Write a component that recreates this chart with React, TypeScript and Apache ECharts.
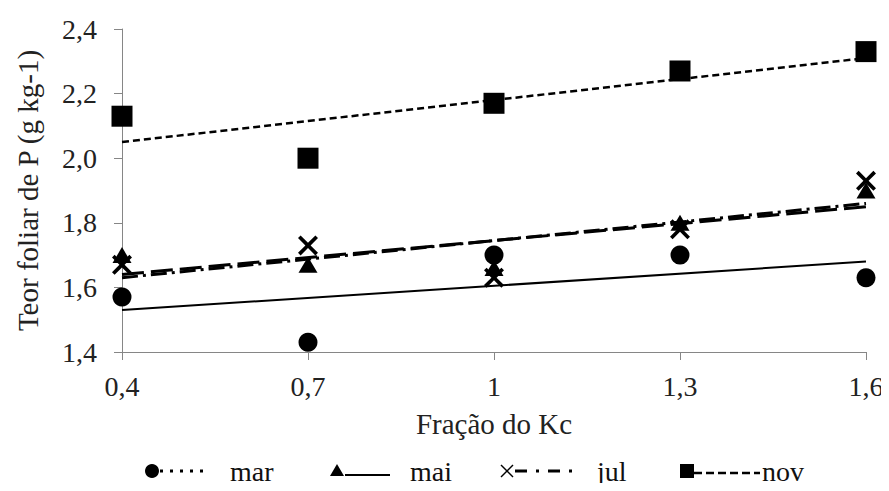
import React, { useEffect, useRef } from "react";
import * as echarts from "echarts";

const categories = ["0,4", "0,7", "1", "1,3", "1,6"];
const marValues = [1.57, 1.43, 1.7, 1.7, 1.63];
const maiValues = [1.7, 1.67, 1.66, 1.8, 1.9];
const julValues = [1.67, 1.73, 1.63, 1.78, 1.93];
const novValues = [2.13, 2.0, 2.17, 2.27, 2.33];
// trend line end values (at 0,4 and 1,6)
const marTrend = [1.53, 1.68];
const maiTrend = [1.64, 1.85];
const julTrend = [1.63, 1.86];
const novTrend = [2.05, 2.31];
const yTicks = { min: 1.4, max: 2.4, interval: 0.2 };
const legendNames = ["mar", "mai", "jul", "nov"];

const FONT = "Liberation Serif";
const X_PATH =
  "path://M0,1.3L1.3,0L5,3.7L8.7,0L10,1.3L6.3,5L10,8.7L8.7,10L5,6.3L1.3,10L0,8.7L3.7,5Z";

function trendData(t: number[]) {
  return categories.map((_, i) => (i === 0 ? t[0] : i === categories.length - 1 ? t[1] : null));
}

export default function App() {
  const ref = useRef<HTMLDivElement>(null);
  useEffect(() => {
    if (!ref.current) return;
    const chart = echarts.init(ref.current, null, { renderer: "svg" });
    const ly = 471;
    const black = "#000";
    const legendText = (x: number, t: string) => ({
      type: "text",
      x,
      y: ly,
      style: {
        text: t,
        fontFamily: FONT,
        fontSize: 28,
        fill: "#111",
        verticalAlign: "middle",
        align: "left",
      },
    });
    const option: any = {
      animation: false,
      backgroundColor: "#fff",
      textStyle: { fontFamily: FONT },
      grid: { left: 122, right: 23, top: 29, bottom: 139 },
      xAxis: {
        type: "category",
        data: categories,
        boundaryGap: false,
        name: "Fração do Kc",
        nameLocation: "middle",
        nameGap: 57,
        nameTextStyle: { fontFamily: FONT, fontSize: 29, color: "#222" },
        axisLine: { lineStyle: { color: "#868686", width: 1 } },
        axisTick: { show: true, length: 8, inside: false, lineStyle: { color: "#868686" } },
        axisLabel: { fontFamily: FONT, fontSize: 28, color: "#222", margin: 20 },
        splitLine: { show: false },
      },
      yAxis: {
        type: "value",
        min: yTicks.min,
        max: yTicks.max,
        interval: yTicks.interval,
        name: "Teor foliar de P (g kg-1)",
        nameLocation: "middle",
        nameGap: 80,
        nameTextStyle: { fontFamily: FONT, fontSize: 29, color: "#222" },
        axisLine: { show: true, lineStyle: { color: "#868686", width: 1 } },
        axisTick: { show: true, length: 8, lineStyle: { color: "#868686" } },
        axisLabel: {
          fontFamily: FONT,
          fontSize: 28,
          color: "#222",
          margin: 25,
          formatter: (v: number) => v.toFixed(1).replace(".", ","),
        },
        splitLine: { show: false },
      },
      series: [
        {
          name: "mar trend",
          type: "line",
          data: trendData(marTrend),
          connectNulls: true,
          symbol: "none",
          lineStyle: { color: black, width: 2, type: "solid" },
          z: 2,
        },
        {
          name: "mai trend",
          type: "line",
          data: trendData(maiTrend),
          connectNulls: true,
          symbol: "none",
          lineStyle: { color: black, width: 3, type: [22, 7] },
          z: 2,
        },
        {
          name: "jul trend",
          type: "line",
          data: trendData(julTrend),
          connectNulls: true,
          symbol: "none",
          lineStyle: { color: black, width: 3, type: [16, 5, 3, 5] },
          z: 2,
        },
        {
          name: "nov trend",
          type: "line",
          data: trendData(novTrend),
          connectNulls: true,
          symbol: "none",
          lineStyle: { color: black, width: 2.5, type: [7, 4] },
          z: 2,
        },
        {
          name: "mar",
          type: "scatter",
          data: marValues,
          symbol: "circle",
          symbolSize: 19,
          itemStyle: { color: black, opacity: 1 },
          z: 5,
        },
        {
          name: "mai",
          type: "scatter",
          data: maiValues,
          symbol: "triangle",
          symbolSize: [19, 16],
          itemStyle: { color: black, opacity: 1 },
          z: 5,
        },
        {
          name: "jul",
          type: "scatter",
          data: julValues,
          symbol: X_PATH,
          symbolSize: 20,
          itemStyle: { color: black, opacity: 1 },
          z: 5,
        },
        {
          name: "nov",
          type: "scatter",
          data: novValues,
          symbol: "rect",
          symbolSize: 21,
          itemStyle: { color: black, opacity: 1 },
          z: 5,
        },
      ],
      graphic: [
        { type: "circle", shape: { cx: 152, cy: ly, r: 7 }, style: { fill: black } },
        {
          type: "line",
          shape: { x1: 160, y1: ly, x2: 210, y2: ly },
          style: { stroke: black, lineWidth: 3, lineDash: [3, 7] },
        },
        legendText(230, legendNames[0]),
        { type: "polygon", shape: { points: [[337, ly - 7], [344, ly + 5], [330, ly + 5]] }, style: { fill: black } },
        { type: "line", shape: { x1: 345, y1: ly + 4, x2: 390, y2: ly + 4 }, style: { stroke: black, lineWidth: 2 } },
        legendText(410, legendNames[1]),
        { type: "line", shape: { x1: 501, y1: ly - 6, x2: 513, y2: ly + 6 }, style: { stroke: black, lineWidth: 1.5 } },
        { type: "line", shape: { x1: 501, y1: ly + 6, x2: 513, y2: ly - 6 }, style: { stroke: black, lineWidth: 1.5 } },
        {
          type: "line",
          shape: { x1: 515, y1: ly, x2: 575, y2: ly },
          style: { stroke: black, lineWidth: 3, lineDash: [12, 9, 3, 9] },
        },
        legendText(597, legendNames[2]),
        { type: "rect", shape: { x: 680, y: ly - 7, width: 14, height: 14 }, style: { fill: black } },
        {
          type: "line",
          shape: { x1: 694, y1: ly + 2, x2: 760, y2: ly + 2 },
          style: { stroke: black, lineWidth: 2.5, lineDash: [8, 4] },
        },
        legendText(762, legendNames[3]),
      ],
    };
    chart.setOption(option);
    return () => chart.dispose();
  }, []);
  return <div ref={ref} style={{ width: 889, height: 491, margin: -8 }} />;
}
